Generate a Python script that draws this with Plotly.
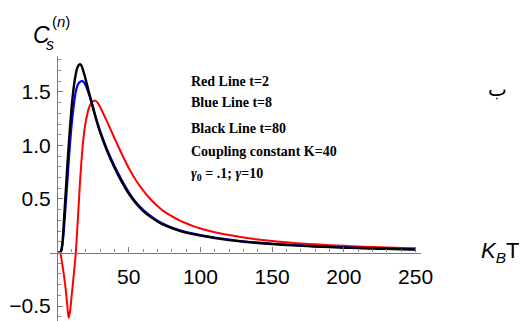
import plotly.graph_objects as go

# Temperature grid (K_B T)
kbt = [0, 1, 2, 3, 4, 5, 6, 7, 8, 9, 10, 11, 12, 13, 14, 15, 16, 17, 18, 19, 20,
       22, 24, 26, 28, 30,
       35, 40, 45, 50, 55, 60, 65, 70, 75, 80, 85, 90, 95, 100,
       110, 120, 130, 140, 150, 160, 170, 180, 190, 200, 210, 220, 230, 240, 250]

# Specific heat C_s^(n)
red_t2 = [0, 0, 0, -0.05, -0.14, -0.23, -0.34, -0.47, -0.61, -0.56, -0.43, -0.30,
          -0.16, -0.02, 0.19, 0.42, 0.65, 0.85, 1.01, 1.13, 1.22,
          1.34, 1.40, 1.42, 1.405, 1.36,
          1.22, 1.07, 0.925, 0.79, 0.675, 0.58, 0.50, 0.435, 0.38, 0.34, 0.303,
          0.273, 0.247, 0.225,
          0.19, 0.163, 0.14, 0.122, 0.107, 0.095, 0.085, 0.076, 0.068, 0.062,
          0.056, 0.051, 0.047, 0.043, 0.04]

blue_t8 = [0, 0, 0, 0.02, 0.10, 0.25, 0.43, 0.62, 0.82, 1.01, 1.17, 1.30, 1.41,
           1.50, 1.55, 1.58, 1.595, 1.60, 1.60, 1.585, 1.56,
           1.49, 1.41, 1.315, 1.22, 1.14,
           0.96, 0.81, 0.68, 0.565, 0.47, 0.40, 0.345, 0.298, 0.262, 0.234, 0.21,
           0.191, 0.176, 0.162,
           0.139, 0.12, 0.104, 0.092, 0.082, 0.073, 0.065, 0.058, 0.053, 0.047,
           0.043, 0.039, 0.036, 0.033, 0.03]

black_t80 = [0, 0, 0, 0.02, 0.12, 0.34, 0.55, 0.77, 0.97, 1.16, 1.33, 1.47, 1.58,
             1.66, 1.72, 1.75, 1.76, 1.745, 1.71, 1.665, 1.615,
             1.51, 1.405, 1.305, 1.21, 1.125,
             0.945, 0.795, 0.665, 0.55, 0.46, 0.39, 0.335, 0.29, 0.255, 0.228, 0.205,
             0.186, 0.171, 0.158,
             0.135, 0.116, 0.101, 0.089, 0.079, 0.07, 0.063, 0.056, 0.051, 0.045,
             0.041, 0.037, 0.034, 0.031, 0.028]

x_tickvals = [50, 100, 150, 200, 250]
x_ticktext = ["50", "100", "150", "200", "250"]
y_tickvals = [-0.5, 0.5, 1.0, 1.5]
y_ticktext = ["\u22120.5", "0.5", "1.0", "1.5"]

legend_lines = ["Red Line t=2", "Blue Line t=8", "Black Line t=80",
                "Coupling constant K=40",
                "<i>\u03b3</i><sub>0</sub> = .1; <i>\u03b3</i>=10"]
legend_py = [0.903, 0.823, 0.728, 0.639, 0.551]

x_range = [-4.9, 253.8]
y_range = [-0.64, 1.836]

fig = go.Figure()
for ys, col, w in [(red_t2, "#ff0000", 2.0), (blue_t8, "#0000ff", 2.2),
                   (black_t80, "#000000", 2.4)]:
    fig.add_trace(go.Scatter(x=kbt, y=ys, mode="lines",
                             line=dict(color=col, width=w, shape="spline", smoothing=0.5),
                             showlegend=False, hoverinfo="skip"))

axis_font = dict(family="Liberation Sans, Arial, sans-serif", size=21, color="#000")

fig.update_xaxes(range=x_range, anchor="free", automargin=False,
                 position=(0 - y_range[0]) / (y_range[1] - y_range[0]),
                 showgrid=False, zeroline=False, showline=True,
                 linecolor="#777", linewidth=1.2,
                 tickmode="array", tickvals=x_tickvals, ticktext=x_ticktext,
                 ticks="inside", ticklen=5, tickcolor="#777", tickwidth=1,
                 ticklabelstandoff=5, tickfont=axis_font,
                 minor=dict(tickmode="linear", tick0=0, dtick=10, ticks="inside",
                            ticklen=3, tickcolor="#888"))
fig.update_yaxes(range=y_range, anchor="free", automargin=False,
                 position=(0 - x_range[0]) / (x_range[1] - x_range[0]),
                 showgrid=False, zeroline=False, showline=True,
                 linecolor="#777", linewidth=1.2,
                 tickmode="array", tickvals=y_tickvals, ticktext=y_ticktext,
                 ticks="inside", ticklen=5, tickcolor="#777", tickwidth=1,
                 ticklabelstandoff=2, tickfont=axis_font,
                 minor=dict(tickmode="linear", tick0=0, dtick=0.1, ticks="inside",
                            ticklen=3, tickcolor="#888"))

for txt, yy in zip(legend_lines, legend_py):
    fig.add_annotation(x=0.3747, y=yy, xref="paper", yref="paper",
                       text="<b>" + txt + "</b>",
                       showarrow=False, xanchor="left", yanchor="middle",
                       font=dict(family="Liberation Serif, Times New Roman, serif",
                                 size=14, color="#000"))

lab_font = "Liberation Sans, Arial, sans-serif"
# y-axis label C_s^(n)
fig.add_annotation(x=-0.0216, y=1.079, xref="paper", yref="paper", text="<i>C</i>",
                   showarrow=False, xanchor="center", yanchor="middle",
                   font=dict(family=lab_font, size=23, color="#000"))
fig.add_annotation(x=0.029, y=1.13, xref="paper", yref="paper", text="(<i>n</i>)",
                   showarrow=False, xanchor="center", yanchor="middle",
                   font=dict(family=lab_font, size=15, color="#000"))
fig.add_annotation(x=0.0, y=1.045, xref="paper", yref="paper", text="<i>s</i>",
                   showarrow=False, xanchor="center", yanchor="middle",
                   font=dict(family=lab_font, size=16, color="#000"))
# x-axis label K_B T
fig.add_annotation(x=1.213, y=0.262, xref="paper", yref="paper",
                   text="<i>K</i><sub><i>B</i></sub>T",
                   showarrow=False, xanchor="center", yanchor="middle",
                   font=dict(family=lab_font, size=22, color="#000"))
# panel letter
fig.add_annotation(x=1.205, y=0.875, xref="paper", yref="paper", text="\u0628",
                   showarrow=False, xanchor="center", yanchor="middle",
                   font=dict(family="DejaVu Sans", size=20, color="#000"))

# page body has an 8px default margin, so the figure is 8px smaller and shifted
fig.update_layout(width=523, height=313, margin=dict(l=42, r=110, t=48, b=0),
                  paper_bgcolor="white", plot_bgcolor="white")

fig.write_html("out.html")
